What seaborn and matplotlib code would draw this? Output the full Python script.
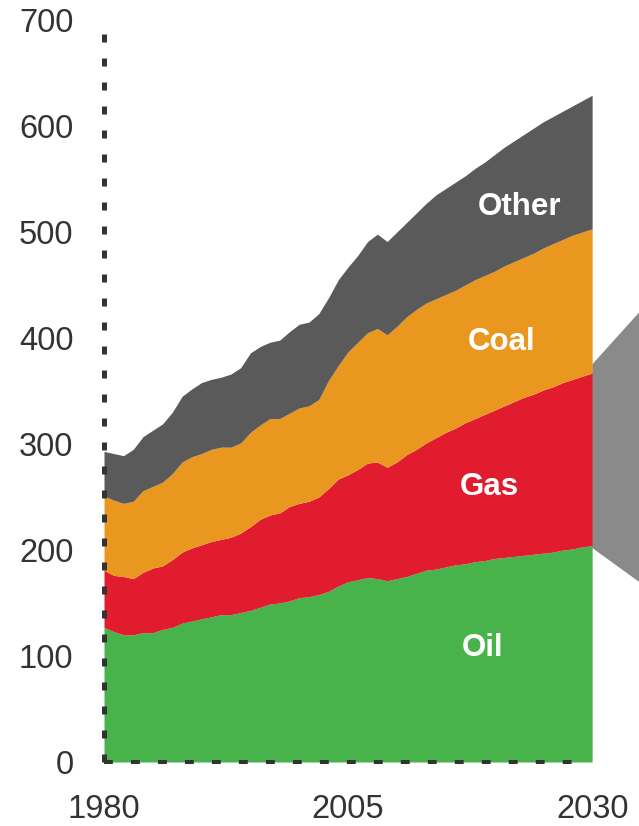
import numpy as np
import pandas as pd
import matplotlib
matplotlib.use("Agg")
import matplotlib.pyplot as plt
import seaborn as sns

# Years 1980-2030, values
years = list(range(1980, 2031))

oil = [127, 123, 120, 120, 122, 122, 125, 127, 131, 133,
       135, 137, 139, 139, 141, 143, 146, 149, 150, 152,
       155, 156, 158, 161, 166, 170, 172, 174, 173, 171,
       173, 175, 178, 181, 182, 184, 186, 187, 189, 190,
       192, 193, 194, 195, 196, 197, 198, 200, 201, 203,
       204]

gas = [54, 53, 55, 53, 57, 61, 60, 64, 67, 69,
       70, 71, 71, 73, 75, 79, 83, 84, 85, 89,
       89, 90, 92, 97, 101, 101, 104, 108, 110, 107,
       110, 115, 117, 120, 124, 127, 129, 133, 135, 138,
       140, 143, 146, 149, 151, 154, 156, 158, 160, 161,
       163]

coal = [70, 71, 69, 73, 77, 77, 79, 81, 85, 86,
        86, 87, 87, 85, 85, 89, 89, 91, 89, 88,
        90, 90, 92, 102, 107, 116, 120, 123, 126, 125,
        128, 130, 132, 132, 131, 130, 130, 130, 131, 131,
        131, 132, 132, 132, 133, 134, 135, 135, 136, 136,
        136]

other = [42, 44, 45, 49, 51, 53, 55, 58, 62, 64,
         67, 66, 66, 69, 71, 75, 74, 72, 74, 77,
         79, 79, 81, 78, 81, 80, 82, 86, 89, 88,
         89, 89, 91, 94, 98, 100, 102, 103, 105, 107,
         110, 112, 114, 116, 118, 119, 120, 121, 122, 124,
         126]

fuels = ["Oil", "Gas", "Coal", "Other"]
colors = ["#47B34A", "#E11C2F", "#EA9720", "#5A5A5A"]
label_pos = [(2018.8, 108), (2019.5, 259), (2020.7, 396), (2022.6, 524)]

y_ticks = [0, 100, 200, 300, 400, 500, 600, 700]
x_ticks = [1980, 2005, 2030]

# grey callout shape to the right of the chart
callout = [(2030, 375), (2034.8, 424), (2034.8, 170), (2030, 202)]

df = pd.DataFrame({"Year": years, "Oil": oil, "Gas": gas,
                   "Coal": coal, "Other": other})

sns.set_theme(style="white")
plt.rcParams["font.family"] = ["Liberation Sans", "DejaVu Sans"]

fig = plt.figure(figsize=(6.39, 8.26), dpi=100)
ax = fig.add_axes([104 / 639, 64 / 826, 535 / 639, 742 / 826])

ax.fill([p[0] for p in callout], [p[1] for p in callout],
        color="#8A8A8A", lw=0, zorder=0)

ax.stackplot(df["Year"], [df[f] for f in fuels], colors=colors,
             lw=0, zorder=1)

for name, (x, y) in zip(fuels, label_pos):
    ax.text(x, y, name, color="white", fontsize=22.5, fontweight="bold",
            ha="center", va="center")

ax.set_xlim(1980, 2034.8)
ax.set_ylim(0, 700)
ax.set_xticks(x_ticks)
ax.set_yticks(y_ticks)
ax.tick_params(axis="both", length=0, labelsize=23.5, labelcolor="#333333")
ax.tick_params(axis="y", pad=22)
ax.tick_params(axis="x", pad=23)

for side in ["top", "right"]:
    ax.spines[side].set_visible(False)
ax.spines["left"].set_linewidth(3.6)
ax.spines["left"].set_linestyle((0, (1.6, 3.2)))
ax.spines["bottom"].set_linewidth(2.9)
ax.spines["bottom"].set_linestyle((0, (2.2, 4.5)))
for side in ["left", "bottom"]:
    ax.spines[side].set_color("#333333")
    ax.spines[side].set_capstyle("butt")
    ax.spines[side].set_zorder(3)
ax.spines["bottom"].set_bounds(1980, 2029)
ax.set_facecolor("none")

fig.savefig("out.png", dpi=100)
